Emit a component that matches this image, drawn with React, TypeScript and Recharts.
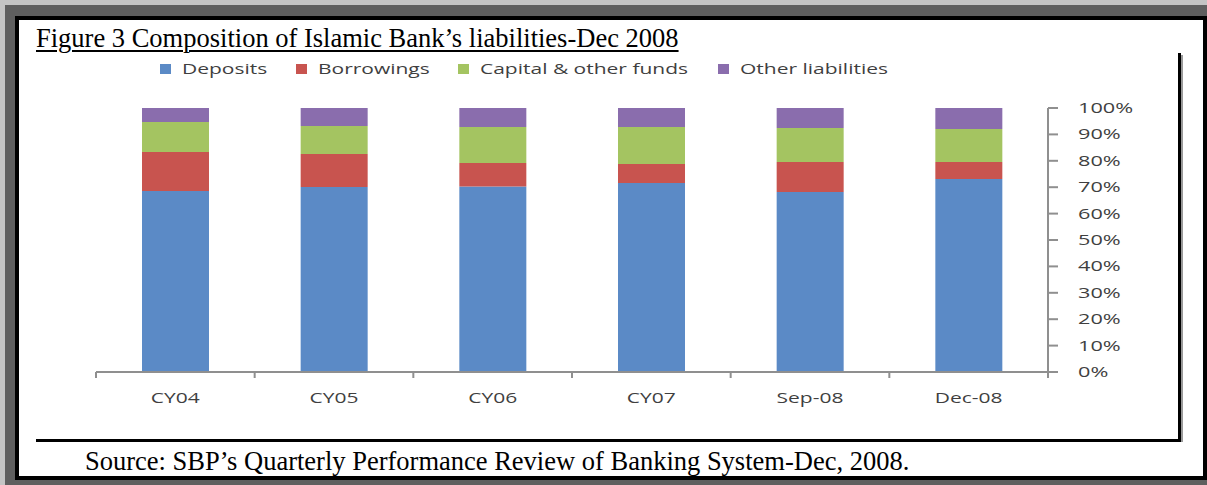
import React from 'react';
import { BarChart, Bar, XAxis, YAxis, Legend } from 'recharts';

const categories = ['CY04', 'CY05', 'CY06', 'CY07', 'Sep-08', 'Dec-08'];
const deposits = [68.6, 70.1, 70.3, 71.6, 68.2, 73.1];
const borrowings = [14.7, 12.5, 8.9, 7.2, 11.3, 6.4];
const capitalFunds = [11.4, 10.6, 13.6, 14.0, 12.9, 12.5];
const otherLiabilities = [5.3, 6.8, 7.2, 7.2, 7.6, 8.0];
const yTicks = [0, 10, 20, 30, 40, 50, 60, 70, 80, 90, 100];

const seriesNames = ['Deposits', 'Borrowings', 'Capital & other funds', 'Other liabilities'];
const seriesColors = ['#5B8AC6', '#C8544F', '#A4C461', '#8A6DAD'];

const data = categories.map((c, i) => ({
  name: c,
  Deposits: deposits[i],
  Borrowings: borrowings[i],
  'Capital & other funds': capitalFunds[i],
  'Other liabilities': otherLiabilities[i],
}));

const W = 1207;
const H = 485;
const M = { top: 108, right: 99, left: 96, bottom: 73 };
const YW = 60;
const XH = 40;
const PLOT_W = W - M.left - M.right - YW;
const BAND = PLOT_W / categories.length;

const SANS = '"Open Sans", "DejaVu Sans", sans-serif';
const SERIF = '"Liberation Serif", "Times New Roman", serif';
const TXT = '#3f3f3f';
const STRETCH = 1.5;

const XTick = (props: any) => {
  const { x, y, payload, index } = props;
  const half = BAND / 2;
  return (
    <g>
      <line x1={x - half} x2={x - half} y1={y} y2={y + 6} stroke="#8f8f8f" strokeWidth={2} />
      {index === categories.length - 1 && (
        <line x1={x + half} x2={x + half} y1={y} y2={y + 6} stroke="#8f8f8f" strokeWidth={2} />
      )}
      <text
        transform={`translate(${x},${y + 31}) scale(${STRETCH},1)`}
        textAnchor="middle"
        fontFamily={SANS}
        fontSize={14}
        fill={TXT}
      >
        {payload.value}
      </text>
    </g>
  );
};

const YTick = (props: any) => {
  const { x, y, payload } = props;
  return (
    <text
      transform={`translate(${x},${y + 5}) scale(${STRETCH + 0.05},1)`}
      textAnchor="start"
      fontFamily={SANS}
      fontSize={14}
      fill={TXT}
    >
      {`${payload.value}%`}
    </text>
  );
};

const LEGEND_X = [160, 296, 458, 718];

const renderLegend = (props: any) => {
  const payload = (props.payload || []).slice().sort(
    (a: any, b: any) => seriesNames.indexOf(a.value) - seriesNames.indexOf(b.value)
  );
  return (
    <svg width={W} height={20} style={{ display: 'block' }}>
      {payload.map((p: any, i: number) => (
        <g key={p.value}>
          <rect x={LEGEND_X[i]} y={5} width={11} height={10} fill={p.color} />
          <text
            transform={`translate(${LEGEND_X[i] + 22},15) scale(${STRETCH},1)`}
            fontFamily={SANS}
            fontSize={14}
            fill={TXT}
          >
            {p.value}
          </text>
        </g>
      ))}
    </svg>
  );
};

export default function App() {
  return (
    <div style={{ position: 'absolute', left: 0, top: 0, width: W, height: H, background: '#c4c4c4', overflow: 'hidden' }}>
      <div style={{ position: 'absolute', left: 5, top: 5, width: W - 5, height: H - 5, background: '#5f5f5f' }} />
      <div
        style={{
          position: 'absolute',
          left: 15,
          top: 16,
          width: W - 15,
          height: 464,
          background: '#ffffff',
          border: '4px solid #000',
          boxSizing: 'border-box',
        }}
      />
      <div
        style={{
          position: 'absolute',
          left: 36,
          top: 24,
          fontFamily: SERIF,
          fontSize: 26.5,
          lineHeight: '28px',
          textDecoration: 'underline',
          textDecorationThickness: 2,
          textUnderlineOffset: 3,
          color: '#000',
          whiteSpace: 'nowrap',
        }}
      >
        Figure 3 Composition of Islamic Bank’s liabilities-Dec 2008
      </div>
      <div style={{ position: 'absolute', left: 1178, top: 53, width: 3, height: 389, background: '#000' }} />
      <div style={{ position: 'absolute', left: 1181, top: 55, width: 2, height: 387, background: '#9a9a9a' }} />
      <div style={{ position: 'absolute', left: 36, top: 439, width: 1145, height: 3, background: '#000' }} />
      <div
        style={{
          position: 'absolute',
          left: 85,
          top: 447,
          fontFamily: SERIF,
          fontSize: 26.5,
          lineHeight: '28px',
          color: '#000',
          whiteSpace: 'nowrap',
        }}
      >
        Source: SBP’s Quarterly Performance Review of Banking System-Dec, 2008.
      </div>
      <div style={{ position: 'absolute', left: 0, top: 0 }}>
        <BarChart width={W} height={H} data={data} margin={M} barSize={67}>
          <XAxis
            dataKey="name"
            height={XH}
            tickLine={false}
            tickSize={0}
            tickMargin={0}
            axisLine={{ stroke: '#8f8f8f', strokeWidth: 2 }}
            tick={<XTick />}
            interval={0}
          />
          <YAxis
            orientation="right"
            width={YW}
            domain={[0, 100]}
            ticks={yTicks}
            interval={0}
            tickSize={10}
            tickMargin={20}
            tickLine={{ stroke: '#8f8f8f', strokeWidth: 2 }}
            axisLine={{ stroke: '#8f8f8f', strokeWidth: 2 }}
            tick={<YTick />}
          />
          <Legend
            verticalAlign="middle"
            align="center"
            layout="horizontal"
            content={renderLegend}
            wrapperStyle={{ top: 59, left: 0, width: W, height: 20 }}
          />
          {seriesNames.map((s, i) => (
            <Bar key={s} dataKey={s} name={s} stackId="a" fill={seriesColors[i]} isAnimationActive={false} />
          ))}
        </BarChart>
      </div>
    </div>
  );
}
